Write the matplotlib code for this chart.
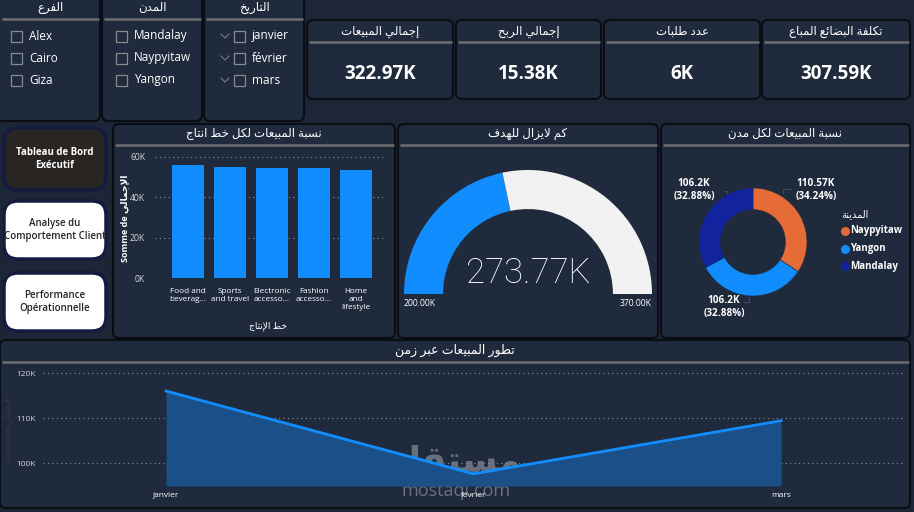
import numpy as np
import matplotlib.pyplot as plt
from matplotlib.patches import FancyBboxPatch, Rectangle
from matplotlib import ticker

plt.rcParams['font.family'] = ['Open Sans', 'DejaVu Sans']

# ---- data ----
branches = ['Alex', 'Cairo', 'Giza']
cities_slicer = ['Mandalay', 'Naypyitaw', 'Yangon']
months = ['janvier', 'février', 'mars']

kpi_titles = ['إجمالي المبيعات', 'إجمالي الربح', 'عدد طلبات', 'تكلفة البضائع المباع']
kpi_values = [322.97, 15.38, 6, 307.59]   # in K

product_lines = ['Food and\nbeverag...', 'Sports\nand travel', 'Electronic\naccesso...',
                 'Fashion\naccesso...', 'Home\nand\nlifestyle']
line_sales = [56200, 55200, 54400, 54400, 53600]

gauge_min, gauge_max, gauge_value = 200.0, 370.0, 273.77   # in K

cities = ['Naypyitaw', 'Yangon', 'Mandalay']
city_sales = [110.57, 106.20, 106.20]   # in K
city_colors = ['#e66c37', '#118dff', '#12239e']

monthly_sales = [116000, 97600, 109400]

# ---- simple arabic shaping (no external libs) ----
FORMS = {
    'ا': ('\ufe8d', '\ufe8e', None, None), 'أ': ('\ufe83', '\ufe84', None, None),
    'إ': ('\ufe87', '\ufe88', None, None), 'آ': ('\ufe81', '\ufe82', None, None),
    'ب': ('\ufe8f', '\ufe90', '\ufe91', '\ufe92'), 'ة': ('\ufe93', '\ufe94', None, None),
    'ت': ('\ufe95', '\ufe96', '\ufe97', '\ufe98'), 'ج': ('\ufe9d', '\ufe9e', '\ufe9f', '\ufea0'),
    'ح': ('\ufea1', '\ufea2', '\ufea3', '\ufea4'), 'خ': ('\ufea5', '\ufea6', '\ufea7', '\ufea8'),
    'د': ('\ufea9', '\ufeaa', None, None), 'ر': ('\ufead', '\ufeae', None, None),
    'ز': ('\ufeaf', '\ufeb0', None, None), 'س': ('\ufeb1', '\ufeb2', '\ufeb3', '\ufeb4'),
    'ض': ('\ufebd', '\ufebe', '\ufebf', '\ufec0'), 'ط': ('\ufec1', '\ufec2', '\ufec3', '\ufec4'),
    'ع': ('\ufec9', '\ufeca', '\ufecb', '\ufecc'), 'ف': ('\ufed1', '\ufed2', '\ufed3', '\ufed4'),
    'ق': ('\ufed5', '\ufed6', '\ufed7', '\ufed8'), 'ك': ('\ufed9', '\ufeda', '\ufedb', '\ufedc'),
    'ل': ('\ufedd', '\ufede', '\ufedf', '\ufee0'), 'م': ('\ufee1', '\ufee2', '\ufee3', '\ufee4'),
    'ن': ('\ufee5', '\ufee6', '\ufee7', '\ufee8'), 'ه': ('\ufee9', '\ufeea', '\ufeeb', '\ufeec'),
    'و': ('\ufeed', '\ufeee', None, None), 'ى': ('\ufeef', '\ufef0', None, None),
    'ي': ('\ufef1', '\ufef2', '\ufef3', '\ufef4'), 'ئ': ('\ufe89', '\ufe8a', '\ufe8b', '\ufe8c'),
}
LAM_ALEF = {'ا': ('\ufefb', '\ufefc'), 'إ': ('\ufef9', '\ufefa'),
            'أ': ('\ufef7', '\ufef8'), 'آ': ('\ufef5', '\ufef6')}


def ar(s):
    out = []
    i, n = 0, len(s)
    while i < n:
        c = s[i]
        if c not in FORMS:
            out.append(c)
            i += 1
            continue
        prev = s[i - 1] if i > 0 else ''
        jp = prev in FORMS and FORMS[prev][2] is not None
        if c == 'ل' and i + 1 < n and s[i + 1] in LAM_ALEF:
            out.append(LAM_ALEF[s[i + 1]][1 if jp else 0])
            i += 2
            continue
        nxt = s[i + 1] if i + 1 < n else ''
        f = FORMS[c]
        jn = f[2] is not None and nxt in FORMS
        out.append(f[3] if jp and jn else f[1] if jp else f[2] if jn else f[0])
        i += 1
    return ''.join(reversed(out))


# ---- colours ----
BG = '#1d2636'
PANEL = '#1f2a3c'
EDGE = '#0a0d14'
SEP = '#6e6e6e'
BLUE = '#118dff'
TXT = '#ffffff'
TICK = '#d6d6d6'

W, H = 914, 512
fig = plt.figure(figsize=(9.14, 5.12), dpi=100)
fig.patch.set_facecolor(BG)


def rect(x0, y0, x1, y1):
    return [x0 / W, 1 - y1 / H, (x1 - x0) / W, (y1 - y0) / H]


base = fig.add_axes([0, 0, 1, 1])
base.set_xlim(0, W)
base.set_ylim(H, 0)
base.axis('off')


def panel(x0, y0, x1, y1, fc=PANEL, ec=EDGE, r=6, lw=1.5):
    base.add_patch(FancyBboxPatch((x0 + r, y0 + r), x1 - x0 - 2 * r, y1 - y0 - 2 * r,
                                  boxstyle=f"round,pad={r}", fc=fc, ec=ec, lw=lw))


def title(x0, x1, yt, yl, s, size=8.5):
    base.text((x0 + x1) / 2, yt, ar(s), ha='center', va='center', color=TXT, fontsize=size)
    base.plot([x0 + 1.5, x1 - 1.5], [yl, yl], color=SEP, lw=1.8, solid_capstyle='butt')


# ---- slicers ----
slicers = [((-3, -8, 100, 121), 'الفرع', branches, False),
           ((102, -8, 202, 121), 'المدن', cities_slicer, False),
           ((204, -8, 304, 121), 'التاريخ', months, True)]
for (x0, y0, x1, y1), t, items, chev in slicers:
    panel(x0, y0, x1, y1)
    title(max(x0, 0), x1, 7, 19, t, 8.5)
    bx = x0 + 14 if not chev else x0 + 30
    for k, it in enumerate(items):
        yy = 36 + 22 * k
        if chev:
            base.plot([x0 + 17, x0 + 21, x0 + 25], [yy - 2, yy + 2, yy - 2], color='#7a7a7a', lw=0.8)
        base.add_patch(Rectangle((bx, yy - 5.5), 11, 11, fc='none', ec='#8a8a8a', lw=0.9))
        base.text(bx + 18, yy, it, ha='left', va='center', color=TXT, fontsize=8.5)

# ---- KPI cards ----
kpi_boxes = [(307, 20, 453, 99), (456, 20, 601, 99), (604, 20, 760, 99), (762, 20, 910, 99)]
for (x0, y0, x1, y1), t, v in zip(kpi_boxes, kpi_titles, kpi_values):
    panel(x0, y0, x1, y1)
    title(x0, x1, 31, 42, t, 8.5)
    base.text((x0 + x1) / 2, 74, f'{v:g}K' if v < 10 else f'{v:.2f}K', ha='center', va='center',
              color=TXT, fontsize=13.5, fontweight='bold')

# ---- navigation buttons ----
buttons = [('Tableau de Bord\nExécutif', '#292523', TXT, 128, 190, 'bold'),
           ('Analyse du\nComportement Client', '#ffffff', '#252423', 201, 259, 'semibold'),
           ('Performance\nOpérationnelle', '#ffffff', '#252423', 273, 331, 'semibold')]
for lab, fc, tc, yt, yb, fw in buttons:
    r = 14
    base.add_patch(FancyBboxPatch((4 + r, yt + r), 102 - 2 * r, yb - yt - 2 * r,
                                  boxstyle=f"round,pad={r}", fc=fc, ec='#151b40', lw=2.5))
    base.text(55, (yt + yb) / 2, lab, ha='center', va='center', color=tc, fontsize=7,
              fontweight=fw, linespacing=1.3)

# ---- bar chart panel ----
panel(113, 124, 395, 338)
title(113, 395, 133, 145, 'نسبة المبيعات لكل خط انتاج', 8.5)
axb = fig.add_axes(rect(155, 157, 385, 278))
axb.set_facecolor('none')
xb = np.arange(len(line_sales))
axb.bar(xb, line_sales, width=0.76, color=BLUE, zorder=3)
axb.set_xlim(-0.786, 4.69)
axb.set_ylim(0, 60000)
axb.yaxis.set_major_locator(ticker.MultipleLocator(20000))
axb.yaxis.set_major_formatter(ticker.FuncFormatter(lambda v, p: f'{v / 1000:.0f}K'))
axb.grid(axis='y', color='#8a8f99', ls=(0, (1, 3)), lw=0.8, zorder=0)
for s in axb.spines.values():
    s.set_visible(False)
axb.tick_params(axis='both', length=0, colors=TICK, labelsize=6.2)
axb.tick_params(axis='y', pad=7)
axb.set_xticks(xb, product_lines, color=TXT, fontsize=5.9, linespacing=1.25, va='top')
axb.tick_params(axis='x', pad=7)
base.text(125, 218, 'Somme de ' + ar('الإجمالي'), rotation=90, ha='center', va='center',
          color=TXT, fontsize=6.5, fontweight='bold')
base.text(268, 326, ar('خط الإنتاج'), ha='center', va='center', color=TXT, fontsize=6.5)

# ---- gauge panel ----
panel(398, 124, 658, 338)
title(398, 658, 133, 145, 'كم لايزال للهدف', 8.5)
gcx, gcy, gr = 528, 294, 124
axg = fig.add_axes(rect(gcx - 130, gcy - 130, gcx + 130, gcy + 130))
done = gauge_value - gauge_min
rest = gauge_max - gauge_value
axg.pie([done, rest, done + rest], colors=[BLUE, '#f2f2f2', 'none'], startangle=180,
        counterclock=False, radius=1, wedgeprops=dict(width=0.315, lw=0))
axg.set_xlim(-130 / gr, 130 / gr)
axg.set_ylim(-130 / gr, 130 / gr)
axg.set_facecolor('none')
base.text(gcx, 273, f'{gauge_value:.2f}K', ha='center', va='center', color=TXT,
          fontsize=25, family=['Roboto', 'DejaVu Sans'], fontweight='light')
base.text(404, 304, f'{gauge_min:.2f}K', ha='left', va='center', color=TXT, fontsize=6.2)
base.text(652, 304, f'{gauge_max:.2f}K', ha='right', va='center', color=TXT, fontsize=6.2)

# ---- donut panel ----
panel(661, 124, 910, 338)
title(661, 910, 133, 145, 'نسبة المبيعات لكل مدن', 8.5)
dcx, dcy, dr = 753, 242, 54
axd = fig.add_axes(rect(dcx - 70, dcy - 70, dcx + 70, dcy + 70))
axd.pie(city_sales, colors=city_colors, startangle=90, counterclock=False,
        wedgeprops=dict(width=0.4, ec=PANEL, lw=0.4))
axd.set_xlim(-70 / dr, 70 / dr)
axd.set_ylim(-70 / dr, 70 / dr)
total = sum(city_sales)
lab_pos = [(816, 190), (724, 307), (694, 190)]
for v, (lx, ly) in zip(city_sales, lab_pos):
    base.text(lx, ly, f'{v:g}K\n({v / total * 100:.2f}%)', ha='center', va='center', color=TXT,
              fontsize=7.2, fontweight='bold', linespacing=1.2)
base.plot([724, 727, 727], [191, 191, 196], color='#4a5262', lw=0.6)
base.plot([791, 783, 783], [189, 189, 193], color='#4a5262', lw=0.6)
base.plot([744, 749, 749], [302, 302, 297], color='#4a5262', lw=0.6)
base.text(841, 215, ar('المدينة'), ha='left', va='center', color=TXT, fontsize=7)
for k, (c, col) in enumerate(zip(cities, city_colors)):
    yy = 231 + 17.5 * k
    base.scatter([845], [yy], s=30, color=col, zorder=5)
    base.text(850, yy, c, ha='left', va='center', color=TXT, fontsize=7, fontweight='bold')

# ---- sales over time ----
panel(0, 340, 910, 508)
title(0, 910, 350, 362, 'تطور المبيعات عبر زمن', 9)
axl = fig.add_axes(rect(43, 366, 905, 486))
axl.set_facecolor('none')
xm = np.arange(len(months))
y_lo = 94890
axl.fill_between(xm, monthly_sales, y_lo, color='#1b4f88', lw=0, zorder=2)
axl.plot(xm, monthly_sales, color=BLUE, lw=2, zorder=3)
axl.set_xlim(-0.4, 2.403)
axl.set_ylim(y_lo, 121560)
axl.set_yticks([100000, 110000, 120000])
axl.yaxis.set_major_formatter(ticker.FuncFormatter(lambda v, p: f'{v / 1000:.0f}K'))
axl.grid(axis='y', color='#8a8f99', ls=(0, (1, 3)), lw=0.8, zorder=0)
for s in axl.spines.values():
    s.set_visible(False)
axl.tick_params(axis='both', length=0, colors=TICK, labelsize=6)
axl.tick_params(axis='y', pad=5)
axl.set_xticks(xm, months, color=TXT, fontsize=6)
axl.tick_params(axis='x', pad=4)
base.text(9, 430, 'Somme de ' + ar('الإجمالي'), rotation=90, ha='center', va='center',
          color='#353d4c', fontsize=5.5)

# watermark
base.text(456, 462, ar('مستقل'), ha='center', va='center', color='#a3aab3', alpha=0.55,
          fontsize=26, fontweight='bold', zorder=10)
base.text(456, 491, 'mostaql.com', ha='center', va='center', color='#a3aab3', alpha=0.55,
          fontsize=13, zorder=10)

fig.savefig('out.png', dpi=100, facecolor=BG)
